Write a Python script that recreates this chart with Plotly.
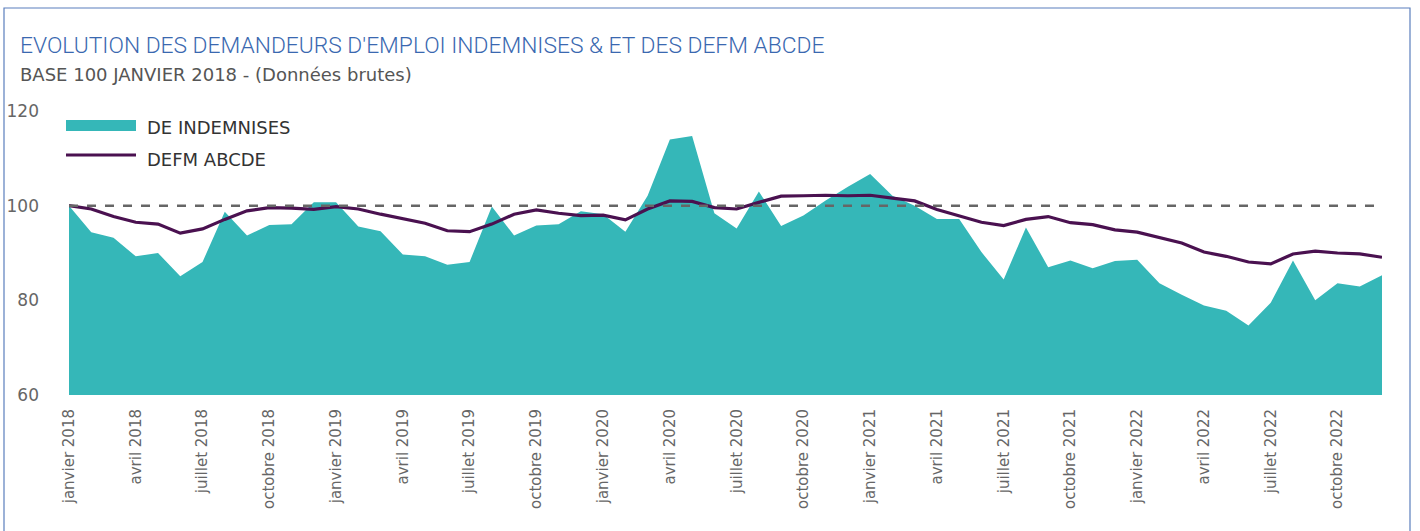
import plotly.graph_objects as go

mois = ["janvier", "février", "mars", "avril", "mai", "juin", "juillet", "août",
        "septembre", "octobre", "novembre", "décembre"]
annees = [2018, 2019, 2020, 2021, 2022]
categories = [f"{m} {a}" for a in annees for m in mois]

de_indemnises = [100.0, 94.4, 93.2, 89.3, 90.0, 85.1, 88.1, 98.7, 93.7, 95.9, 96.1, 100.7,
                 100.7, 95.6, 94.6, 89.7, 89.3, 87.5, 88.1, 99.8, 93.7, 95.8, 96.1, 98.8,
                 98.2, 94.5, 102.1, 114.0, 114.7, 98.4, 95.2, 103.0, 95.7, 97.9, 101.1, 104.0,
                 106.7, 102.1, 100.0, 97.2, 97.2, 90.2, 84.4, 95.4, 87.0, 88.4, 86.8, 88.3,
                 88.6, 83.6, 81.2, 78.9, 77.8, 74.7, 79.5, 88.4, 80.0, 83.6, 82.9, 85.3]

defm_abcde = [100.0, 99.3, 97.7, 96.5, 96.1, 94.2, 95.1, 97.1, 98.9, 99.6, 99.5, 99.2,
              99.8, 99.3, 98.2, 97.2, 96.3, 94.7, 94.5, 96.1, 98.2, 99.1, 98.4, 97.9,
              98.0, 97.0, 99.3, 101.0, 100.9, 99.6, 99.3, 100.7, 102.0, 102.1, 102.2, 102.1,
              102.2, 101.6, 101.0, 99.2, 97.9, 96.5, 95.8, 97.1, 97.7, 96.4, 96.0, 94.9,
              94.4, 93.2, 92.1, 90.2, 89.3, 88.1, 87.7, 89.8, 90.4, 90.0, 89.8, 89.1]

base = 100
tick_vals = [120, 100, 80, 60]

TEAL = "#35b7b8"
PURPLE = "#4a1150"

fig = go.Figure()
fig.add_trace(go.Scatter(x=categories, y=de_indemnises, name="DE INDEMNISES",
                         mode="lines", line=dict(width=0, color=TEAL),
                         fill="tozeroy", fillcolor=TEAL, showlegend=False))
fig.add_shape(type="line", xref="x", yref="y", x0=categories[0], x1=categories[-1],
              y0=base, y1=base, line=dict(color="#666666", width=2.5, dash="dash"))
fig.add_trace(go.Scatter(x=categories, y=defm_abcde, name="DEFM ABCDE",
                         mode="lines", line=dict(width=3.2, color=PURPLE),
                         showlegend=False))

W, H = 1420, 531
L, R, T, B = 69, 38, 111, 136
pw, ph = W - L - R, H - T - B

def px(x):
    return (x - L) / pw

def py(y):
    return 1 - (y - T) / ph

# outer frame
fig.add_shape(type="rect", xref="paper", yref="paper",
              x0=px(4), x1=px(1410), y0=py(8), y1=py(545),
              line=dict(color="#5b7fbd", width=1.2), fillcolor="rgba(0,0,0,0)")

# custom legend
fig.add_shape(type="rect", xref="paper", yref="paper",
              x0=px(66), x1=px(136), y0=py(131), y1=py(120),
              line=dict(width=0), fillcolor=TEAL)
fig.add_shape(type="line", xref="paper", yref="paper",
              x0=px(66), x1=px(136), y0=py(155), y1=py(155),
              line=dict(color=PURPLE, width=3.2))
fig.add_annotation(xref="paper", yref="paper", x=px(145), y=py(127),
                   text="DE INDEMNISES", showarrow=False, xanchor="left", yanchor="middle",
                   font=dict(family="DejaVu Sans", size=18, color="#333333"))
fig.add_annotation(xref="paper", yref="paper", x=px(145), y=py(159),
                   text="DEFM ABCDE", showarrow=False, xanchor="left", yanchor="middle",
                   font=dict(family="DejaVu Sans", size=18, color="#333333"))

# titles
fig.add_annotation(xref="paper", yref="paper", x=px(18), y=py(46),
                   text="EVOLUTION DES DEMANDEURS D'EMPLOI INDEMNISES & ET DES DEFM ABCDE",
                   showarrow=False, xanchor="left", yanchor="middle",
                   font=dict(family="Roboto", size=22.8, color="#3a68b0", weight=300))
fig.add_annotation(xref="paper", yref="paper", x=px(18), y=py(74),
                   text="BASE 100 JANVIER 2018 - (Données brutes)",
                   showarrow=False, xanchor="left", yanchor="middle",
                   font=dict(family="DejaVu Sans", size=18, color="#555555"))

fig.update_layout(
    width=W, height=H,
    margin=dict(l=L, r=R, t=T, b=B, autoexpand=False),
    paper_bgcolor="white", plot_bgcolor="white",
    hovermode=False,
    xaxis=dict(type="category", range=[0, len(categories) - 1],
               tickmode="array", tickvals=categories[::3], ticktext=categories[::3],
               tickangle=-90, showgrid=False, zeroline=False, showline=False,
               ticks="", ticklabelstandoff=10, automargin=False,
               tickfont=dict(family="DejaVu Sans", size=15, color="#666666")),
    yaxis=dict(range=[60, 120], tickvals=tick_vals, showgrid=False, zeroline=False,
               showline=False, ticks="", ticklabelstandoff=29, automargin=False,
               tickfont=dict(family="DejaVu Sans", size=17, color="#666666")),
    showlegend=False,
)

fig.write_html("out.html", config={"displayModeBar": False},
               post_script="document.body.style.margin='0';document.body.style.overflow='hidden';")
